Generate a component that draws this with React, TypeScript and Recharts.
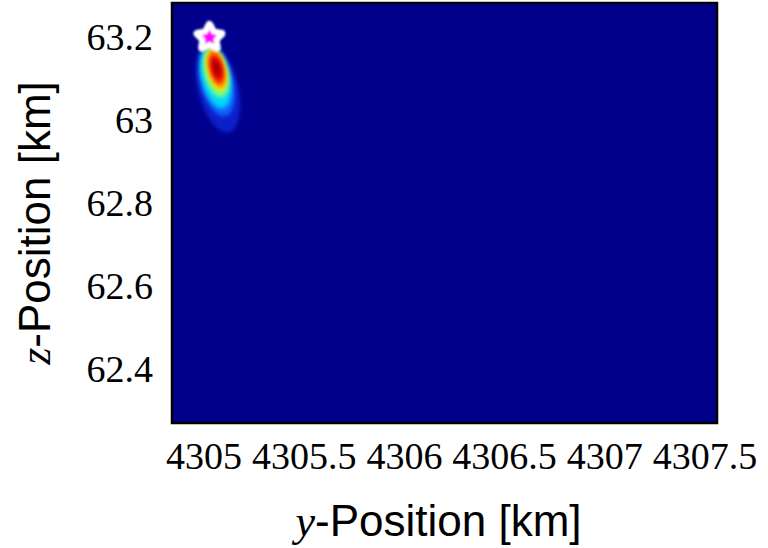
import { ScatterChart, Scatter, XAxis, YAxis, CartesianGrid, ReferenceArea, Label } from "recharts";

// axis ranges [km]
const Y_RANGE: [number, number] = [4304.84, 4307.56];
const Z_RANGE: [number, number] = [62.27, 63.28];
const yTicks = [4305, 4305.5, 4306, 4306.5, 4307, 4307.5];
const zTicks = [62.4, 62.6, 62.8, 63, 63.2];

// likelihood blob, drawn as nested iso-levels (outermost first)
const levelColors = ["#1838ff", "#0a6cff", "#00d4ff", "#6cff86", "#ffe600", "#ff6a00", "#ec0000", "#a40000"];
const levelOpacity = [0.55, 0.85, 1, 1, 1, 1, 1, 1];
const levelCenterY = [4305.0695, 4305.0645, 4305.058, 4305.06, 4305.062, 4305.063, 4305.063, 4305.063];
const levelCenterZ = [63.0756, 63.09, 63.0996, 63.1116, 63.119, 63.1213, 63.1225, 63.1237];
const levelHalfY = [0.1, 0.08, 0.071, 0.06, 0.048, 0.039, 0.029, 0.018];
const levelHalfZ = [0.11, 0.085, 0.075, 0.061, 0.053, 0.045, 0.033, 0.02];

// true source position
const sourceY = [4305.027];
const sourceZ = [63.197];

const W = 768;
const H = 548;
const MARGIN = { top: 3, right: 51, bottom: 0, left: 0 };
const Y_AXIS_W = 172;
const X_AXIS_H = 125;
const PLOT_W = W - MARGIN.left - MARGIN.right - Y_AXIS_W;
const PLOT_H = H - MARGIN.top - MARGIN.bottom - X_AXIS_H;
const PX_PER_KM_Y = PLOT_W / (Y_RANGE[1] - Y_RANGE[0]);
const PX_PER_KM_Z = PLOT_H / (Z_RANGE[1] - Z_RANGE[0]);
const TILT = -14;

const levels = levelColors.map((color, i) => ({
  posY: levelCenterY[i],
  posZ: levelCenterZ[i],
  halfY: levelHalfY[i],
  halfZ: levelHalfZ[i],
  color,
  opacity: levelOpacity[i],
}));

const source = sourceY.map((posY, i) => ({ posY, posZ: sourceZ[i] }));

const BG = "#00008c";
const tickStyle = { fontFamily: "Liberation Serif", fontSize: 38, fill: "#000" };

function LevelShape(props: any) {
  const { cx, cy, payload, index } = props;
  return (
    <g>
      {index === 0 && (
        <defs>
          <filter id="blobBlur" x="-50%" y="-50%" width="200%" height="200%">
            <feGaussianBlur stdDeviation="2.1" />
          </filter>
        </defs>
      )}
      <ellipse
        cx={cx}
        cy={cy}
        rx={payload.halfY * PX_PER_KM_Y}
        ry={payload.halfZ * PX_PER_KM_Z}
        fill={payload.color}
        fillOpacity={payload.opacity}
        transform={`rotate(${TILT} ${cx} ${cy})`}
        filter="url(#blobBlur)"
      />
    </g>
  );
}

function starPoints(cx: number, cy: number, outer: number, inner: number) {
  const pts: string[] = [];
  for (let k = 0; k < 10; k++) {
    const r = k % 2 === 0 ? outer : inner;
    const a = (Math.PI / 5) * k - Math.PI / 2;
    pts.push(`${cx + r * Math.cos(a)},${cy + r * Math.sin(a)}`);
  }
  return pts.join(" ");
}

function StarShape(props: any) {
  const { cx, cy } = props;
  return (
    <g>
      <defs>
        <filter id="starSoft" x="-50%" y="-50%" width="200%" height="200%">
          <feGaussianBlur stdDeviation="0.9" />
        </filter>
      </defs>
      <polygon
        points={starPoints(cx, cy, 12.5, 6.4)}
        fill="#fff"
        stroke="#fff"
        strokeWidth={8}
        strokeLinejoin="round"
        filter="url(#starSoft)"
      />
      <polygon points={starPoints(cx, cy, 7.5, 3.6)} fill="#ff00ff" filter="url(#starSoft)" />
    </g>
  );
}

function XTitle() {
  return (
    <text x={MARGIN.left + Y_AXIS_W + PLOT_W / 2 - 6} y={536} textAnchor="middle" fontFamily="Liberation Sans" fontSize={44} fill="#000">
      <tspan fontFamily="Liberation Serif" fontStyle="italic">y</tspan>-Position [km]
    </text>
  );
}

function YTitle() {
  const x = 50;
  const y = 223;
  return (
    <text x={x} y={y} transform={`rotate(-90 ${x} ${y})`} textAnchor="middle" fontFamily="Liberation Sans" fontSize={44} fill="#000">
      <tspan fontFamily="Liberation Serif" fontStyle="italic">z</tspan>-Position [km]
    </text>
  );
}

export default function App() {
  return (
    <div style={{ position: "absolute", left: 0, top: 0, width: W, height: H, background: "#fff" }}>
      <ScatterChart width={W} height={H} margin={MARGIN}>
        <CartesianGrid horizontal={false} vertical={false} fill={BG} />
        <XAxis
          type="number"
          dataKey="posY"
          domain={Y_RANGE}
          ticks={yTicks}
          interval={0}
          allowDataOverflow
          height={X_AXIS_H}
          axisLine={false}
          tickLine={false}
          tickSize={0}
          tickMargin={19}
          tick={tickStyle}
        >
          <Label content={<XTitle />} />
        </XAxis>
        <YAxis
          type="number"
          dataKey="posZ"
          domain={Z_RANGE}
          ticks={zTicks}
          interval={0}
          allowDataOverflow
          width={Y_AXIS_W}
          axisLine={false}
          tickLine={false}
          tickSize={0}
          tickMargin={19}
          tick={tickStyle}
        >
          <Label content={<YTitle />} />
        </YAxis>
        <Scatter data={levels} shape={<LevelShape />} isAnimationActive={false} />
        <Scatter data={source} shape={<StarShape />} isAnimationActive={false} />
        <ReferenceArea
          x1={Y_RANGE[0]}
          x2={Y_RANGE[1]}
          y1={Z_RANGE[0]}
          y2={Z_RANGE[1]}
          fill="none"
          stroke="#000"
          strokeWidth={2.5}
        />
      </ScatterChart>
    </div>
  );
}
